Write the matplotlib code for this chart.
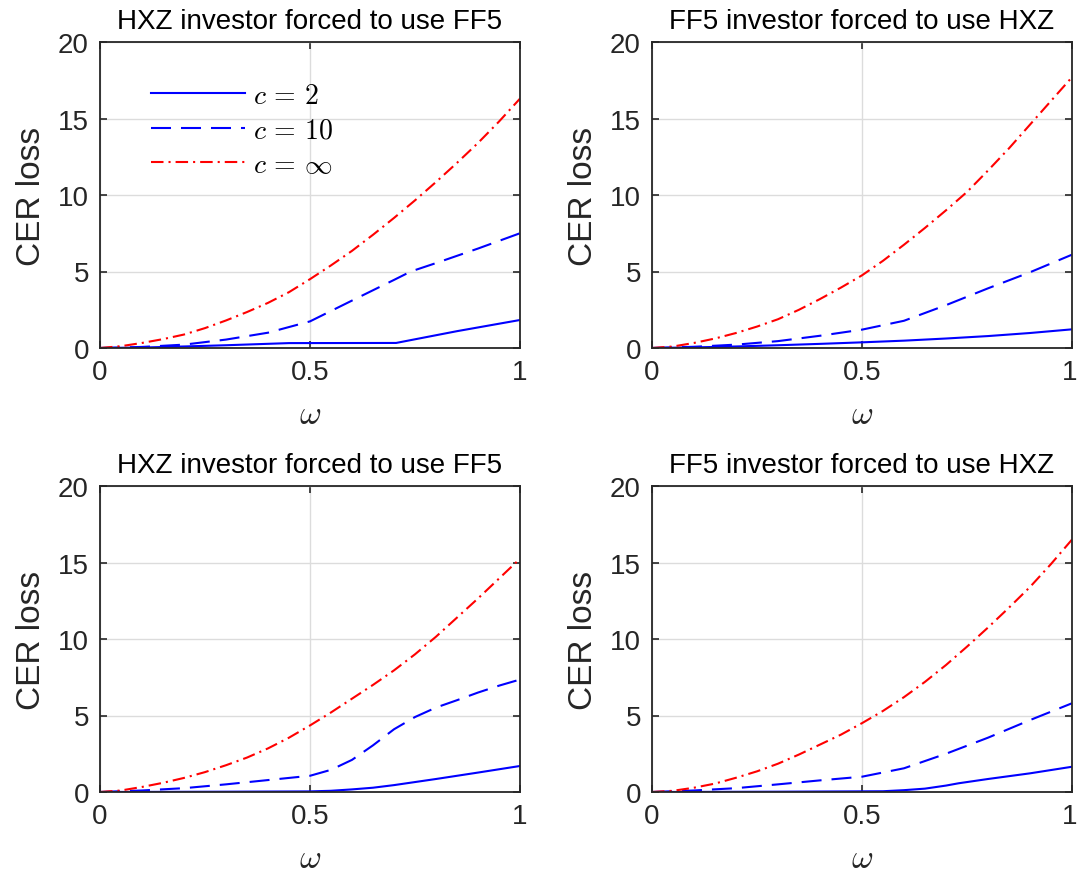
import matplotlib
matplotlib.use("Agg")
import matplotlib.pyplot as plt
from matplotlib.transforms import ScaledTranslation

plt.rcParams['font.family'] = ['Liberation Sans', 'DejaVu Sans']
plt.rcParams['mathtext.fontset'] = 'cm'

titles = ["HXZ investor forced to use FF5", "FF5 investor forced to use HXZ",
          "HXZ investor forced to use FF5", "FF5 investor forced to use HXZ"]
legend_labels = [r"$c\,=\,2$", r"$c\,=\,10$", r"$c\,=\,\infty$"]
x_ticks = [0, 0.5, 1]
x_ticklabels = ["0", "0.5", "1"]
y_ticks = [0, 5, 10, 15, 20]

# fine grid used by the c = infinity curves
omega_fine = [0.0, 0.05, 0.1, 0.15, 0.2, 0.25, 0.3, 0.35, 0.4, 0.45, 0.5,
              0.55, 0.6, 0.65, 0.7, 0.75, 0.8, 0.85, 0.9, 0.95, 1.0]

# panel 1: HXZ investor forced to use FF5 (top)
w1_c2 = [0.0, 0.1, 0.2, 0.3, 0.45, 0.705, 0.85, 1.0]
p1_c2 = [0.0, 0.03, 0.1, 0.18, 0.32, 0.33, 1.1, 1.83]
w1_c10 = [0.0, 0.1, 0.2, 0.3, 0.4, 0.5, 0.6, 0.7, 0.74, 0.8, 0.9, 1.0]
p1_c10 = [0.0, 0.07, 0.22, 0.55, 1.0, 1.74, 3.1, 4.45, 5.0, 5.55, 6.5, 7.5]
p1_cinf = [0.0, 0.12, 0.33, 0.58, 0.88, 1.3, 1.8, 2.35, 2.95, 3.65, 4.5,
           5.4, 6.35, 7.4, 8.5, 9.65, 10.85, 12.1, 13.4, 14.8, 16.3]

# panel 2: FF5 investor forced to use HXZ (top)
w2 = [0.0, 0.1, 0.2, 0.3, 0.4, 0.5, 0.6, 0.7, 0.8, 0.9, 1.0]
p2_c2 = [0.0, 0.04, 0.1, 0.18, 0.27, 0.37, 0.48, 0.62, 0.78, 0.98, 1.22]
p2_c10 = [0.0, 0.08, 0.22, 0.45, 0.8, 1.2, 1.78, 2.8, 3.9, 4.95, 6.1]
p2_cinf = [0.0, 0.1, 0.33, 0.62, 0.98, 1.4, 1.88, 2.5, 3.2, 3.95, 4.75,
           5.7, 6.75, 7.85, 9.0, 10.2, 11.6, 13.05, 14.6, 16.15, 17.7]

# panel 3: HXZ investor forced to use FF5 (bottom)
w3_c2 = [0.0, 0.3, 0.5, 0.55, 0.6, 0.65, 0.7, 0.75, 0.8, 0.9, 1.0]
p3_c2 = [0.0, 0.02, 0.04, 0.08, 0.17, 0.28, 0.45, 0.65, 0.85, 1.27, 1.7]
w3_c10 = [0.0, 0.1, 0.2, 0.3, 0.4, 0.5, 0.55, 0.6, 0.65, 0.7, 0.75,
          0.8, 0.85, 0.9, 0.95, 1.0]
p3_c10 = [0.0, 0.1, 0.25, 0.5, 0.78, 1.06, 1.45, 2.1, 3.05, 4.1, 4.9,
          5.52, 6.0, 6.5, 6.95, 7.35]
p3_cinf = [0.0, 0.1, 0.33, 0.6, 0.92, 1.3, 1.75, 2.25, 2.85, 3.55, 4.35,
           5.2, 6.1, 7.0, 7.95, 9.0, 10.15, 11.4, 12.65, 13.95, 15.25]

# panel 4: FF5 investor forced to use HXZ (bottom)
w4_c2 = [0.0, 0.3, 0.55, 0.6, 0.65, 0.7, 0.73, 0.8, 0.9, 1.0]
p4_c2 = [0.0, 0.02, 0.05, 0.12, 0.22, 0.42, 0.57, 0.85, 1.22, 1.65]
w4 = [0.0, 0.1, 0.2, 0.3, 0.4, 0.5, 0.6, 0.7, 0.8, 0.9, 1.0]
p4_c10 = [0.0, 0.1, 0.25, 0.5, 0.76, 1.0, 1.55, 2.5, 3.55, 4.7, 5.8]
p4_cinf = [0.0, 0.08, 0.28, 0.55, 0.93, 1.35, 1.85, 2.45, 3.1, 3.75, 4.5,
           5.3, 6.2, 7.2, 8.3, 9.5, 10.75, 12.05, 13.4, 14.9, 16.5]

panels = [
    ((w1_c2, p1_c2), (w1_c10, p1_c10), (omega_fine, p1_cinf)),
    ((w2, p2_c2), (w2, p2_c10), (omega_fine, p2_cinf)),
    ((w3_c2, p3_c2), (w3_c10, p3_c10), (omega_fine, p3_cinf)),
    ((w4_c2, p4_c2), (w4, p4_c10), (omega_fine, p4_cinf)),
]

W, H = 1078, 878
fig = plt.figure(figsize=(W / 100, H / 100), dpi=100)

boxes = [(100, 43), (652, 43), (100, 487), (652, 487)]
aw, ah = 420, 306
dark = "#262626"
lw = 1.5

for i, ((x0, y0), data, title) in enumerate(zip(boxes, panels, titles)):
    ax = fig.add_axes([x0 / W, 1 - (y0 + ah) / H, aw / W, ah / H])
    (xa, ya), (xb, yb), (xc, yc) = data
    ax.plot(xa, ya, color="blue", lw=lw, label=legend_labels[0])
    l2, = ax.plot(xb, yb, color="blue", lw=lw, label=legend_labels[1])
    l2.set_dashes((9.6, 4.8))
    l3, = ax.plot(xc, yc, color="red", lw=lw, label=legend_labels[2])
    l3.set_dashes((6.0, 2.4, 1.0, 2.4))
    ax.set_xlim(0, 1)
    ax.set_ylim(0, 20)
    ax.set_xticks(x_ticks)
    ax.set_xticklabels(x_ticklabels)
    ax.set_yticks(y_ticks)
    ax.grid(True, color="#dcdcdc", lw=1.0)
    ax.set_axisbelow(True)
    ax.tick_params(direction="in", top=True, right=True, length=5, width=1.2,
                   colors=dark, labelsize=20, pad=8)
    for s in ax.spines.values():
        s.set_color(dark)
        s.set_linewidth(1.3)
    ax.set_title(title, fontsize=20, color="black", pad=10)
    ax.set_ylabel("CER loss", fontsize=24, color=dark, labelpad=8)
    ax.set_xlabel(r"$\omega$", fontsize=24, color=dark, labelpad=10)
    if i % 2 == 1:
        # nudge the right-most tick label so it stays inside the canvas
        lab = ax.xaxis.get_major_ticks()[-1].label1
        lab.set_transform(lab.get_transform() +
                          ScaledTranslation(-2 / 100, 0, fig.dpi_scale_trans))
    if i == 0:
        ax.legend(loc="upper left", bbox_to_anchor=(0.0952, 0.902),
                  borderaxespad=0, frameon=False, fontsize=20,
                  handlelength=3.38, handletextpad=0.29, labelspacing=0.3)

fig.savefig("out.png", dpi=100)
